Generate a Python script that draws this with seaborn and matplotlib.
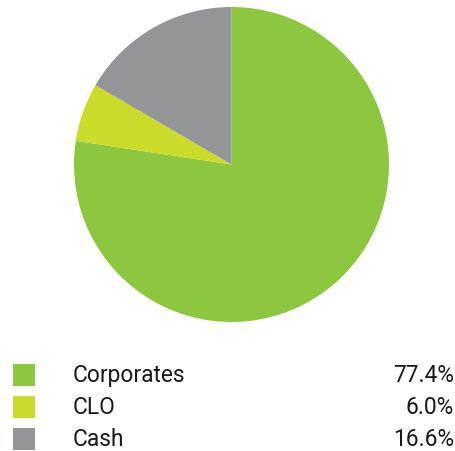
import matplotlib
matplotlib.use("Agg")
import matplotlib.pyplot as plt
import seaborn as sns
from matplotlib.patches import Rectangle

categories = ["Corporates", "CLO", "Cash"]
values = [77.4, 6.0, 16.6]
labels = ["77.4%", "6.0%", "16.6%"]
colors = ["#8DC63F", "#CADB2A", "#939598"]

sns.set_theme(style="white")
plt.rcParams['font.family'] = ['Roboto', 'DejaVu Sans']

W, H = 456, 452
fig = plt.figure(figsize=(W / 100, H / 100), dpi=100)

cx, cy, r = 231.5, 165.5, 157.5
ax = fig.add_axes([(cx - r) / W, (H - cy - r) / H, 2 * r / W, 2 * r / H])
ax.pie(values, colors=colors, startangle=90, counterclock=False,
       wedgeprops=dict(linewidth=0))
ax.set_aspect("auto")
ax.set_xlim(-1, 1)
ax.set_ylim(-1, 1)
ax.axis("off")

lax = fig.add_axes([0, 0, 1, 1])
lax.set_xlim(0, W)
lax.set_ylim(H, 0)
lax.axis("off")
row_y = [375.5, 407.5, 440]
for cat, lab, col, y in zip(categories, labels, colors, row_y):
    lax.add_patch(Rectangle((13, y - 11), 22, 22, facecolor=col, edgecolor="none"))
    lax.text(73, y, cat, fontsize=16.4, color="#1a1a1a", va="center", ha="left")
    lax.text(454, y, lab, fontsize=16.4, color="#1a1a1a", va="center", ha="right")

fig.savefig("out.png", dpi=100)
